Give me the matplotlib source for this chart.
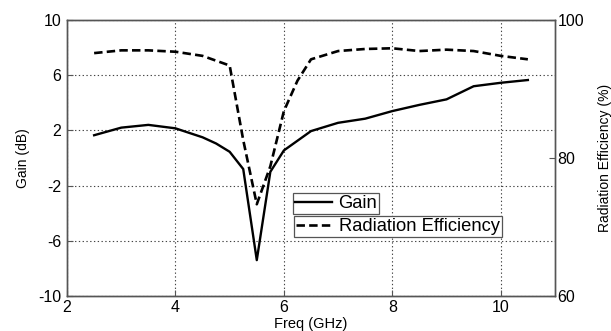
import matplotlib
matplotlib.use("Agg")
import matplotlib.pyplot as plt
from matplotlib.lines import Line2D

plt.rcParams['font.family'] = ['Liberation Sans', 'DejaVu Sans']
plt.rcParams['axes.unicode_minus'] = False

# Measured antenna gain (dB) versus frequency (GHz)
gain_freq = [2.5, 3.0, 3.5, 4.0, 4.5, 4.75, 5.0, 5.25, 5.5, 5.75, 6.0,
             6.5, 7.0, 7.5, 8.0, 8.5, 9.0, 9.5, 10.0, 10.5]
gain_db = [1.65, 2.2, 2.4, 2.15, 1.5, 1.05, 0.45, -0.8, -7.4, -1.0, 0.55,
           1.95, 2.55, 2.85, 3.4, 3.85, 4.25, 5.2, 5.45, 5.65]

# Radiation efficiency (%) versus frequency (GHz)
eff_freq = [2.5, 3.0, 3.5, 4.0, 4.5, 4.75, 5.0, 5.25, 5.5, 5.75, 6.0,
            6.25, 6.5, 7.0, 7.5, 8.0, 8.5, 9.0, 9.5, 10.0, 10.5]
eff_pct = [95.2, 95.6, 95.6, 95.4, 94.8, 94.1, 93.4, 82.6, 73.3, 78.8, 86.8,
           91.2, 94.3, 95.5, 95.8, 95.9, 95.5, 95.7, 95.5, 94.8, 94.3]

x_ticks = [2, 4, 6, 8, 10]
gain_ticks = [-10, -6, -2, 2, 6, 10]
eff_ticks = [60, 80, 100]

fig = plt.figure(figsize=(6.11, 3.31), dpi=100)
ax = fig.add_axes([0.1097, 0.1057, 0.7986, 0.8339])
ax2 = ax.twinx()

ax.plot(gain_freq, gain_db, color='black', lw=1.7, solid_joinstyle='round')
ax2.plot(eff_freq, eff_pct, color='black', lw=1.9, dashes=(3.2, 1.6))

ax.set_xlim(2, 11)
ax.set_ylim(-10, 10)
ax2.set_ylim(60, 100)
ax.set_xticks(x_ticks)
ax.set_yticks(gain_ticks)
ax2.set_yticks(eff_ticks)

ax.grid(True, color='#444444', lw=0.8, linestyle=(0, (1.2, 2.2)))
ax.set_axisbelow(True)

for a in (ax, ax2):
    for s in a.spines.values():
        s.set_color('#555555')
        s.set_linewidth(1.0)
    a.tick_params(direction='in', length=4, width=0.8, color='#555555',
                  labelsize=11.5, pad=3)
ax.tick_params(axis='y', pad=4)
ax2.tick_params(axis='y', pad=2)

ax.set_xlabel('Freq (GHz)', fontsize=10.5, labelpad=1)
ax.set_ylabel('Gain (dB)', fontsize=10, labelpad=6)
ax2.set_ylabel('Radiation Efficiency (%)', fontsize=10, labelpad=10)

# Two separate legend boxes, one per curve
h_gain = Line2D([], [], color='black', lw=1.7)
h_eff = Line2D([], [], color='black', lw=1.9, dashes=(3.2, 1.6))
leg_kw = dict(fontsize=13.2, frameon=True, fancybox=False, framealpha=1,
              edgecolor='#555555', borderpad=0.12, handlelength=2.0,
              handletextpad=0.35, borderaxespad=0, loc='upper left')
leg1 = ax2.legend([h_gain], ['Gain'], bbox_to_anchor=(0.463, 0.373), **leg_kw)
leg1.get_frame().set_linewidth(0.9)
ax2.add_artist(leg1)
leg2 = ax2.legend([h_eff], ['Radiation Efficiency'],
                  bbox_to_anchor=(0.465, 0.29), **leg_kw)
leg2.get_frame().set_linewidth(0.9)

fig.savefig('out.png', dpi=100)
